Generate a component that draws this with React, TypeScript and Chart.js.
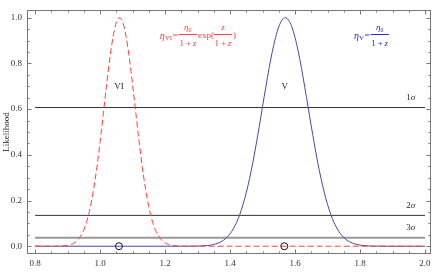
import React, { useEffect, useRef } from 'react';
import { Chart, registerables } from 'chart.js';

Chart.register(...registerables);

// Redshift grid and likelihood of model VI (red dashed)
const VI_X = [0.8, 0.86, 0.88, 0.9, 0.91, 0.92, 0.93, 0.94, 0.95, 0.96, 0.97, 0.98, 0.99, 1.0, 1.01, 1.02, 1.03, 1.04, 1.05, 1.06, 1.07, 1.08, 1.09, 1.1, 1.11, 1.12, 1.13, 1.14, 1.15, 1.16, 1.17, 1.18, 1.19, 1.2, 1.21, 1.22, 1.24, 1.26, 2.0];
const VI_Y = [0, 0, 0.001, 0.004, 0.008, 0.014, 0.026, 0.044, 0.072, 0.114, 0.172, 0.249, 0.345, 0.458, 0.581, 0.707, 0.823, 0.917, 0.979, 1.0, 0.979, 0.917, 0.823, 0.707, 0.581, 0.458, 0.345, 0.249, 0.172, 0.114, 0.072, 0.044, 0.026, 0.014, 0.008, 0.004, 0.001, 0, 0];

// Likelihood of model V (blue solid)
const V_X = [0.8, 1.25, 1.29, 1.31, 1.33, 1.35, 1.37, 1.39, 1.41, 1.43, 1.45, 1.47, 1.49, 1.51, 1.53, 1.55, 1.57, 1.59, 1.61, 1.63, 1.65, 1.67, 1.69, 1.71, 1.73, 1.75, 1.77, 1.79, 1.81, 1.83, 1.85, 1.89, 2.0];
const V_Y = [0, 0, 0.0004, 0.0011, 0.003, 0.0077, 0.0179, 0.0384, 0.0761, 0.1392, 0.2349, 0.3657, 0.5252, 0.6962, 0.8513, 0.9606, 1.0, 0.9606, 0.8513, 0.6962, 0.5252, 0.3657, 0.2349, 0.1392, 0.0761, 0.0384, 0.0179, 0.0077, 0.003, 0.0011, 0.0004, 0, 0];

// Confidence levels
const SIGMA_LEVELS = [0.607, 0.135, 0.037];
const SIGMA_LABELS = ['1', '2', '3'];
const SIGMA_COLORS = ['#333333', '#333333', '#999999'];
const SIGMA_WIDTHS = [1, 1, 2];
const LINE_X = [0.8, 2.0];

// Peak markers (open circles)
const MARK_X = [1.058, 1.567];
const MARK_Y = [0, 0];

// Curve labels
const CURVE_LABELS = ['VI', 'V'];
const CURVE_LABEL_X = [1.058, 1.568];
const CURVE_LABEL_Y = [0.70, 0.70];

// Axis ticks
const X_TICKS = [0.8, 1.0, 1.2, 1.4, 1.6, 1.8, 2.0];
const Y_TICKS = [0.0, 0.2, 0.4, 0.6, 0.8, 1.0];
const X_MIN = 0.775, X_MAX = 2.0185;
const Y_MIN = -0.034, Y_MAX = 1.032;

const SERIF = '"Liberation Serif", "DejaVu Serif", serif';
const RED = 'rgb(255,64,64)';
const BLUE = 'rgb(72,72,165)';
const BLUE_TEXT = 'rgb(40,40,225)';
const TS = '\u2009';

function drawDen(ctx: CanvasRenderingContext2D, mx: number, my: number) {
  ctx.textBaseline = 'middle';
  ctx.textAlign = 'left';
  ctx.font = `9px ${SERIF}`;
  const a = '1' + TS + '+' + TS;
  const wa = ctx.measureText(a).width;
  ctx.font = `italic 9px ${SERIF}`;
  const wz = ctx.measureText('z').width;
  const x0 = mx - (wa + wz) / 2;
  ctx.font = `9px ${SERIF}`;
  ctx.fillText(a, x0, my);
  ctx.font = `italic 9px ${SERIF}`;
  ctx.fillText('z', x0 + wa, my);
  return wa + wz;
}

function drawFraction(ctx: CanvasRenderingContext2D, x: number, barY: number, num: (c: CanvasRenderingContext2D, cx: number, cy: number) => number, color: string) {
  ctx.font = `9px ${SERIF}`;
  const denW = ctx.measureText('1' + TS + '+' + TS).width + 4;
  const w = denW + 1;
  ctx.strokeStyle = color;
  ctx.lineWidth = 1;
  ctx.beginPath();
  ctx.moveTo(x, Math.round(barY) + 0.5);
  ctx.lineTo(x + w, Math.round(barY) + 0.5);
  ctx.stroke();
  num(ctx, x + w / 2, barY - 6);
  drawDen(ctx, x + w / 2, barY + 10);
  return w;
}

function drawEtaSub(ctx: CanvasRenderingContext2D, x: number, y: number, sub: string, size: number) {
  ctx.textAlign = 'left';
  ctx.textBaseline = 'middle';
  ctx.font = `italic ${size}px ${SERIF}`;
  ctx.fillText('η', x, y);
  const w1 = ctx.measureText('η').width;
  ctx.font = `${Math.round(size * 0.7)}px ${SERIF}`;
  ctx.fillText(sub, x + w1, y + 2);
  return w1 + ctx.measureText(sub).width;
}

const eta0 = (c: CanvasRenderingContext2D, mx: number, my: number) => {
  c.font = `italic 9px ${SERIF}`;
  const w = c.measureText('η').width;
  c.font = `6px ${SERIF}`;
  const w2 = c.measureText('0').width;
  const x0 = mx - (w + w2) / 2;
  c.textAlign = 'left';
  c.textBaseline = 'middle';
  c.font = `italic 9px ${SERIF}`;
  c.fillText('η', x0, my);
  c.font = `6px ${SERIF}`;
  c.fillText('0', x0 + w, my + 2);
  return w + w2;
};

const zNum = (c: CanvasRenderingContext2D, mx: number, my: number) => {
  c.font = `italic 9px ${SERIF}`;
  c.textAlign = 'center';
  c.textBaseline = 'middle';
  c.fillText('z', mx, my);
  return 4;
};

const decor = {
  id: 'decor',
  afterDraw(chart: any) {
    const { ctx, chartArea: a, scales } = chart;
    const xs = scales.x, ys = scales.y;
    ctx.save();
    // frame
    ctx.strokeStyle = '#777';
    ctx.lineWidth = 1;
    const L = Math.round(a.left) + 0.5, R = Math.round(a.right) - 0.5;
    const T = Math.round(a.top) + 0.5, B = Math.round(a.bottom) - 0.5;
    ctx.strokeRect(L, T, R - L, B - T);
    ctx.beginPath();
    for (let i = 0; i <= 24; i++) {
      const v = 0.8 + i * 0.05;
      const len = i % 4 === 0 ? 4 : 2;
      const px = Math.round(xs.getPixelForValue(v)) + 0.5;
      ctx.moveTo(px, B); ctx.lineTo(px, B - len);
      ctx.moveTo(px, T); ctx.lineTo(px, T + len);
    }
    for (let i = 0; i <= 20; i++) {
      const v = i * 0.05;
      const len = i % 4 === 0 ? 4 : 2;
      const py = Math.round(ys.getPixelForValue(v)) + 0.5;
      ctx.moveTo(L, py); ctx.lineTo(L + len, py);
      ctx.moveTo(R, py); ctx.lineTo(R - len, py);
    }
    ctx.stroke();

    // curve labels
    ctx.fillStyle = '#222';
    ctx.font = `9px ${SERIF}`;
    ctx.textAlign = 'center';
    ctx.textBaseline = 'middle';
    CURVE_LABELS.forEach((t, i) => {
      ctx.fillText(t, xs.getPixelForValue(CURVE_LABEL_X[i]), ys.getPixelForValue(CURVE_LABEL_Y[i]));
    });

    // sigma labels
    SIGMA_LEVELS.forEach((lv, i) => {
      const px = xs.getPixelForValue(1.956);
      const py = ys.getPixelForValue(lv) - 10;
      ctx.font = `9px ${SERIF}`;
      const w1 = ctx.measureText(SIGMA_LABELS[i]).width;
      ctx.font = `italic 9px ${SERIF}`;
      const w2 = ctx.measureText('σ').width;
      const x0 = px - (w1 + w2) / 2;
      ctx.textAlign = 'left';
      ctx.font = `9px ${SERIF}`;
      ctx.fillText(SIGMA_LABELS[i], x0, py);
      ctx.font = `italic 9px ${SERIF}`;
      ctx.fillText('σ', x0 + w1, py);
    });

    // y axis title
    ctx.save();
    ctx.translate(7, ys.getPixelForValue(0.5));
    ctx.rotate(-Math.PI / 2);
    ctx.font = `9px ${SERIF}`;
    ctx.fillStyle = '#222';
    ctx.textAlign = 'center';
    ctx.textBaseline = 'middle';
    ctx.fillText('Likelihood', 0, 0);
    ctx.restore();

    // red formula
    const fy = ys.getPixelForValue(0.92);
    const barY = fy - 2;
    ctx.fillStyle = RED;
    let cx = xs.getPixelForValue(1.1837);
    cx += drawEtaSub(ctx, cx, fy, 'VI', 10);
    ctx.font = `9px ${SERIF}`;
    ctx.textAlign = 'left';
    ctx.fillText('=', cx + 0.5, fy);
    cx += ctx.measureText('=').width + 1.5;
    cx += drawFraction(ctx, cx, barY, eta0, RED);
    ctx.fillStyle = RED;
    ctx.textAlign = 'left';
    ctx.textBaseline = 'middle';
    ctx.font = `9px ${SERIF}`;
    ctx.fillText('exp(', cx + 1, fy);
    cx += ctx.measureText('exp(').width + 1;
    cx += drawFraction(ctx, cx, barY, zNum, RED);
    ctx.font = `9px ${SERIF}`;
    ctx.textAlign = 'left';
    ctx.textBaseline = 'middle';
    ctx.fillText(')', cx + 1, fy);

    // blue formula
    ctx.fillStyle = BLUE_TEXT;
    cx = xs.getPixelForValue(1.7816);
    cx += drawEtaSub(ctx, cx, fy, 'V', 10);
    ctx.font = `9px ${SERIF}`;
    ctx.textAlign = 'left';
    ctx.fillText('=', cx + 0.5, fy);
    cx += ctx.measureText('=').width + 1.5;
    drawFraction(ctx, cx, barY, eta0, BLUE_TEXT);

    ctx.restore();
  },
};

export default function App() {
  const ref = useRef<HTMLCanvasElement>(null);
  useEffect(() => {
    if (!ref.current) return;
    const pts = (xs: number[], ys: number[]) => xs.map((x, i) => ({ x, y: ys[i] }));
    const datasets: any[] = [
      {
        data: pts(MARK_X, MARK_Y), showLine: false, pointRadius: 3.5, pointStyle: 'circle',
        pointBorderColor: '#111', pointBackgroundColor: 'rgba(0,0,0,0)', pointBorderWidth: 1,
      },
      {
        data: pts(VI_X, VI_Y), showLine: true, borderColor: RED, borderWidth: 1, borderDash: [6, 3],
        pointRadius: 0, cubicInterpolationMode: 'monotone',
      },
      {
        data: pts(V_X, V_Y), showLine: true, borderColor: BLUE, borderWidth: 1,
        pointRadius: 0, cubicInterpolationMode: 'monotone',
      },
      ...SIGMA_LEVELS.map((lv, i) => ({
        data: pts(LINE_X, LINE_X.map(() => lv)), showLine: true, borderColor: SIGMA_COLORS[i],
        borderWidth: SIGMA_WIDTHS[i], pointRadius: 0,
      })),
    ];
    const chart = new Chart(ref.current, {
      type: 'scatter',
      data: { datasets },
      options: {
        animation: false,
        responsive: false,
        events: [],
        layout: { padding: { top: 2, right: 5, left: 0, bottom: 0 } },
        plugins: { legend: { display: false }, tooltip: { enabled: false } },
        scales: {
          x: {
            type: 'linear', min: X_MIN, max: X_MAX,
            grid: { display: false, drawTicks: false }, border: { display: false },
            afterBuildTicks: (s: any) => { s.ticks = X_TICKS.map((v) => ({ value: v })); },
            afterFit: (s: any) => { s.height = 24; },
            ticks: {
              padding: 4, color: '#333', font: { family: SERIF, size: 9 }, maxRotation: 0,
              callback: (v: any) => Number(v).toFixed(1),
            },
          },
          y: {
            type: 'linear', min: Y_MIN, max: Y_MAX,
            grid: { display: false, drawTicks: false }, border: { display: false },
            afterBuildTicks: (s: any) => { s.ticks = Y_TICKS.map((v) => ({ value: v })); },
            afterFit: (s: any) => { s.width = 27; },
            ticks: {
              padding: 5, color: '#333', font: { family: SERIF, size: 9 },
              callback: (v: any) => Number(v).toFixed(1),
            },
          },
        },
      },
      plugins: [decor],
    });
    return () => chart.destroy();
  }, []);
  return (
    <div style={{ position: 'absolute', left: 0, top: 0, width: 436, height: 278, background: '#fff' }}>
      <canvas ref={ref} width={436} height={278} style={{ display: 'block', width: 436, height: 278 }} />
    </div>
  );
}
